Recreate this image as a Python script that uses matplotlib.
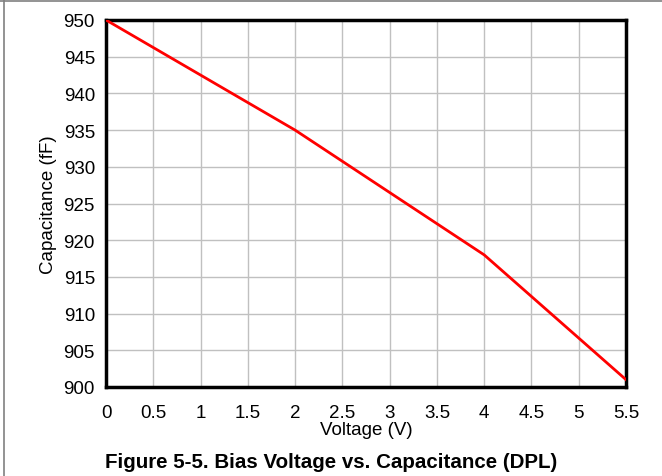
import matplotlib
matplotlib.use("Agg")
import matplotlib.pyplot as plt
from matplotlib.lines import Line2D

plt.rcParams['font.family'] = ['Liberation Sans', 'DejaVu Sans']

voltage = [0, 2, 4, 5.5]
capacitance = [950, 935, 918, 901]

xticks = [0, 0.5, 1, 1.5, 2, 2.5, 3, 3.5, 4, 4.5, 5, 5.5]
yticks = [900, 905, 910, 915, 920, 925, 930, 935, 940, 945, 950]

fig = plt.figure(figsize=(6.62, 4.77), dpi=100)
ax = fig.add_axes([106 / 662, 1 - 388 / 477, (626 - 106) / 662, (388 - 21) / 477])

ax.plot(voltage, capacitance, color='#ff0000', linewidth=2, zorder=3)

ax.set_xlim(0, 5.5)
ax.set_ylim(900, 950)
ax.set_xticks(xticks)
ax.set_xticklabels([("%g" % x) for x in xticks], fontsize=13.5)
ax.set_yticks(yticks)
ax.set_yticklabels([str(y) for y in yticks], fontsize=13.5)
ax.tick_params(axis='x', length=0, pad=12)
ax.tick_params(axis='y', length=0, pad=8)
ax.grid(True, color='#c0c0c0', linewidth=1)
for s in ax.spines.values():
    s.set_linewidth(2.5)
    s.set_color('black')

ax.set_xlabel("Voltage (V)", fontsize=13.5, labelpad=0)
ax.set_ylabel("Capacitance (fF)", fontsize=13.5, labelpad=5)

fig.text(0.5, 1 - 463 / 477, "Figure 5-5. Bias Voltage vs. Capacitance (DPL)",
         ha='center', va='center', fontsize=14.8, fontweight='bold')

# outer frame lines (top and left)
fig.add_artist(Line2D([0, 1], [1 - 1.5 / 477, 1 - 1.5 / 477], color='#808080', linewidth=1.2))
fig.add_artist(Line2D([3.5 / 662, 3.5 / 662], [0, 1], color='#808080', linewidth=1.2))

fig.savefig("out.png", dpi=100)
